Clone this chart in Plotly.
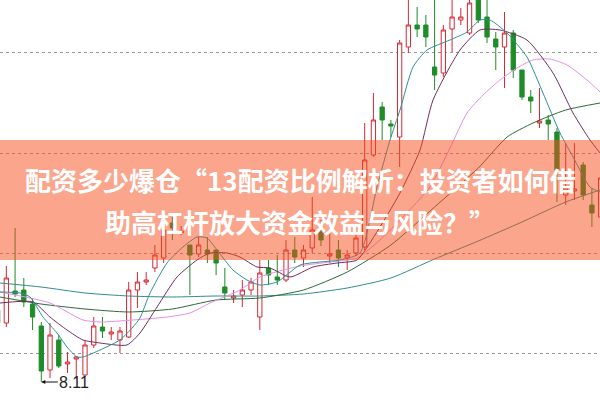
import plotly.graph_objects as go

# ---- candle data (index, open, high, low, close) ----
idx = list(range(70))
opens = [8.83, 8.70, 9.02, 9.03, 8.89, 8.67, 8.23, 8.53, 8.29, 8.34,
         8.18, 8.48, 8.66, 8.59, 8.53, 8.56, 9.03, 9.11, 9.25, 9.35,
         9.70, 9.60, 9.48, 9.39, 9.43, 9.43, 9.06, 8.95, 8.98, 9.03,
         8.76, 9.25, 9.16, 9.13, 9.43, 9.35, 9.45, 9.66, 9.37, 9.43,
         9.35, 9.40, 9.46, 10.38, 10.86, 10.69, 10.56, 11.46, 11.68, 11.68,
         11.26, 11.20, 11.64, 11.73, 11.60, 11.95, 11.76, 11.54, 11.46, 11.60,
         11.23, 10.96, 10.70, 10.73, 10.61, 9.98, 10.02, 10.28, 9.88, 9.76]
highs = [8.88, 9.27, 9.65, 9.15, 8.95, 8.71, 8.70, 8.58, 8.41, 8.37,
         8.53, 8.76, 8.76, 8.66, 8.66, 9.11, 9.21, 9.21, 9.48, 9.73,
         9.76, 9.67, 9.48, 9.56, 9.56, 9.43, 9.25, 9.03, 9.13, 9.15,
         9.33, 9.33, 9.38, 9.53, 9.56, 9.48, 9.96, 9.73, 9.63, 9.53,
         9.43, 9.60, 10.70, 11.00, 10.91, 10.73, 11.53, 11.98, 11.86, 11.78,
         11.98, 11.68, 11.98, 11.85, 11.98, 11.98, 11.98, 11.61, 11.81, 11.63,
         11.23, 11.03, 11.05, 10.78, 10.65, 10.50, 10.50, 10.31, 10.05, 10.23]
lows = [8.65, 8.66, 8.96, 8.86, 8.63, 8.11, 8.15, 8.25, 8.20, 8.14,
        8.16, 8.45, 8.55, 8.53, 8.40, 8.55, 8.85, 9.08, 9.21, 9.30,
        9.53, 9.58, 8.98, 9.36, 9.30, 9.18, 8.93, 8.90, 8.86, 8.98,
        8.63, 9.08, 9.08, 9.11, 9.30, 9.26, 9.40, 9.47, 9.30, 9.26,
        9.23, 9.37, 9.43, 10.36, 10.53, 10.56, 10.26, 11.40, 11.56, 11.46,
        11.03, 11.16, 11.41, 11.68, 11.58, 11.70, 11.50, 11.23, 11.05, 11.15,
        10.93, 10.80, 10.65, 10.53, 9.91, 9.88, 9.93, 9.93, 9.66, 9.71]
closes = [8.70, 9.15, 8.99, 8.91, 8.76, 8.22, 8.58, 8.27, 8.31, 8.36,
          8.48, 8.67, 8.62, 8.61, 8.62, 9.03, 9.11, 9.13, 9.38, 9.63,
          9.65, 9.62, 9.38, 9.48, 9.39, 9.30, 9.00, 8.97, 9.03, 9.11,
          9.20, 9.18, 9.13, 9.43, 9.36, 9.43, 9.63, 9.53, 9.39, 9.35,
          9.38, 9.55, 10.33, 10.73, 10.73, 10.67, 11.50, 11.68, 11.64, 11.56,
          11.18, 11.63, 11.76, 11.76, 11.90, 11.73, 11.56, 11.46, 11.60, 11.23,
          10.96, 10.92, 10.72, 10.69, 10.23, 10.05, 10.04, 9.98, 9.80, 10.15]

# ---- moving-average lines (index, price) ----
ma5_x = [0.27, 2.56, 3.71, 5.19, 6.80, 7.94, 9.08, 9.77, 11.72, 14.0, 15.49, 16.29, 17.44,
         19.38, 21.21, 22.81, 23.96, 25.1, 26.93, 28.53, 30.02, 31.97, 34.6, 36.89, 39.18,
         41.46, 43.41, 44.9, 46.04, 47.53, 49.13, 51.76, 53.71, 55.19, 56.34, 58.28, 60.57,
         62.4, 64.35, 65.84, 67.78, 68.93]
ma5_y = [9.01, 9.00, 8.96, 8.76, 8.60, 8.46, 8.36, 8.36, 8.43, 8.53, 8.66, 8.75, 9.00,
         9.30, 9.46, 9.56, 9.55, 9.43, 9.23, 9.13, 9.08, 9.11, 9.28, 9.31, 9.33,
         9.40, 10.06, 10.53, 10.83, 11.26, 11.43, 11.53, 11.61, 11.73, 11.73, 11.60, 11.36,
         11.00, 10.60, 10.36, 10.06, 10.01]

ma10_x = [0.27, 4.05, 5.99, 7.94, 9.77, 11.72, 14.8, 16.29, 18.24, 20.53, 22.81, 24.3,
          26.25, 27.73, 29.68, 31.17, 33.46, 36.09, 38.83, 41.12, 43.18, 46.04, 48.33,
          49.82, 52.91, 55.19, 57.48, 60.57, 63.55, 65.84, 67.78, 68.93]
ma10_y = [8.90, 8.91, 8.76, 8.63, 8.53, 8.50, 8.48, 8.60, 8.86, 9.16, 9.33, 9.40,
          9.40, 9.36, 9.26, 9.25, 9.16, 9.26, 9.30, 9.33, 9.58, 10.00, 10.43,
          10.93, 11.43, 11.63, 11.63, 11.53, 11.20, 10.80, 10.53, 10.40]

ma20_x = [0.27, 5.99, 9.77, 11.72, 15.49, 19.38, 22.01, 24.3, 27.73, 30.02, 34.6, 38.03,
          41.12, 43.75, 46.38, 49.47, 51.76, 53.71, 55.54, 57.48, 59.43, 61.26, 63.2,
          65.15, 67.44, 68.93]
ma20_y = [9.01, 8.90, 8.73, 8.71, 8.73, 8.76, 8.80, 8.90, 9.03, 9.16, 9.27, 9.31,
          9.35, 9.53, 9.76, 10.06, 10.45, 10.80, 10.98, 11.13, 11.25, 11.33, 11.34,
          11.28, 11.13, 11.01]

ma60_x = [0.27, 4.97, 10.0, 15.0, 20.0, 25.0, 30.0, 35.0, 40.0, 45.0, 50.0, 55.0,
          58.3, 61.26, 65.0, 68.93]
ma60_y = [8.96, 8.89, 8.84, 8.81, 8.84, 8.93, 8.95, 9.03, 9.21, 9.48, 9.86, 10.25,
          10.56, 10.70, 10.83, 10.90]

ma120_x = [0.27, 4.97, 10.0, 15.0, 20.0, 25.0, 30.0, 35.0, 40.0, 45.0, 50.0, 55.0,
           60.0, 65.0, 68.93]
ma120_y = [9.10, 9.06, 9.00, 8.97, 8.96, 8.97, 8.97, 8.99, 9.05, 9.15, 9.34, 9.52,
           9.71, 9.91, 10.03]

grid_levels = [8.4, 9.4, 10.4, 11.41]
low_label = "8.11"
low_index = 5
low_value = 8.11
title_line1 = "配资多少爆仓“13配资比例解析：投资者如何借"
title_line2 = "助高杠杆放大资金效益与风险？”"

RED = "rgb(214,40,52)"
GREEN = "rgb(30,140,40)"

fig = go.Figure()

fig.add_trace(go.Candlestick(
    x=idx, open=opens, high=highs, low=lows, close=closes,
    increasing=dict(line=dict(color=RED, width=1), fillcolor="white"),
    decreasing=dict(line=dict(color=GREEN, width=1), fillcolor=GREEN),
    whiskerwidth=0, hoverinfo="skip",
))

lines = [
    (ma120_x, ma120_y, "rgb(50,140,140)"),
    (ma60_x, ma60_y, "rgb(45,105,55)"),
    (ma20_x, ma20_y, "rgb(228,145,228)"),
    (ma10_x, ma10_y, "rgb(112,45,92)"),
    (ma5_x, ma5_y, "rgb(45,145,150)"),
]
for lx, ly, col in lines:
    fig.add_trace(go.Scatter(x=lx, y=ly, mode="lines",
                             line=dict(color=col, width=1, shape="spline", smoothing=0.6),
                             hoverinfo="skip"))

# salmon banner over the chart
fig.add_shape(type="rect", xref="paper", yref="paper", x0=0, x1=1,
              y0=1 - 260 / 400, y1=1 - 140 / 400,
              fillcolor="rgba(245,78,29,0.51)", line=dict(width=0), layer="above")

fig.add_annotation(x=0.5, y=1 - 180 / 400, xref="paper", yref="paper",
                   text=title_line1, showarrow=False, xanchor="center", yanchor="middle",
                   font=dict(family="Noto Sans CJK SC", size=26, color="white", weight=700))
fig.add_annotation(x=0.5, y=1 - 221 / 400, xref="paper", yref="paper",
                   text=title_line2, showarrow=False, xanchor="center", yanchor="middle",
                   font=dict(family="Noto Sans CJK SC", size=26, color="white", weight=700))

fig.add_annotation(x=low_index, y=low_value, text=low_label, showarrow=True,
                   ax=33, ay=0, arrowhead=2, arrowsize=0.8, arrowwidth=1,
                   arrowcolor="#111", standoff=0,
                   font=dict(family="Liberation Sans, Arial", size=16, color="#222"))

fig.update_xaxes(range=[0.2746, 68.925], showgrid=False, zeroline=False,
                 showticklabels=False, showline=False, rangeslider=dict(visible=False))
fig.update_yaxes(range=[7.93, 11.93], tickvals=grid_levels, showgrid=True,
                 gridcolor="#9a9a9a", griddash="dot", gridwidth=1,
                 zeroline=False, showticklabels=False, showline=False)

fig.update_layout(width=600, height=400, margin=dict(l=0, r=0, t=0, b=0),
                  paper_bgcolor="white", plot_bgcolor="white", showlegend=False,
                  hovermode=False)

fig.write_html("out.html", config={"displayModeBar": False, "staticPlot": True})

# remove the default page margin so the figure sits at the window's corner
with open("out.html", "r", encoding="utf-8") as f:
    html = f.read()
html = html.replace("<body>", '<body style="margin:0;padding:0;overflow:hidden">', 1)
with open("out.html", "w", encoding="utf-8") as f:
    f.write(html)
